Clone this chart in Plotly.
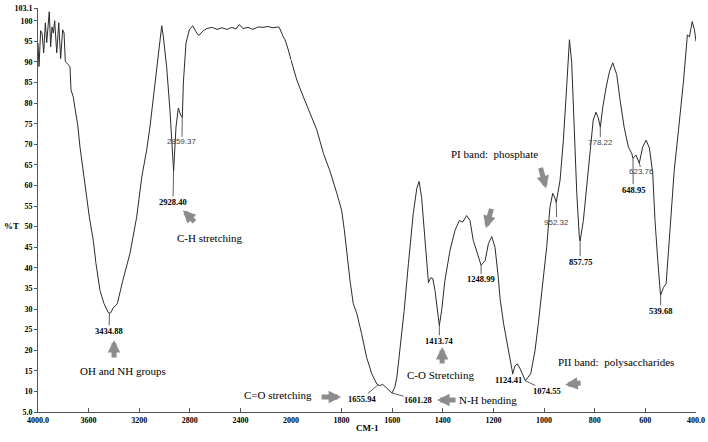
import plotly.graph_objects as go

# ===== FTIR spectrum =====
wavenumber = [
    4000, 3992, 3979, 3968, 3955, 3942, 3931, 3921, 3911, 3900, 3889, 3879, 3868, 3852,
    3836, 3821, 3805, 3794, 3784, 3760, 3747, 3739, 3721, 3708, 3686, 3668, 3642, 3615,
    3594, 3563, 3542, 3510, 3478, 3444, 3435, 3425, 3405, 3373, 3330, 3273, 3220, 3180,
    3141, 3115, 3075, 3049, 3022, 3009, 2983, 2957, 2943, 2928, 2909, 2891, 2872, 2859,
    2851, 2830, 2804, 2777, 2751, 2730, 2693, 2666, 2625, 2585, 2546, 2506, 2467, 2435,
    2409, 2380, 2340, 2300, 2261, 2221, 2182, 2142, 2103, 2093, 2061, 2047, 2021, 2008,
    2000, 1977, 1951, 1925, 1898, 1872, 1846, 1819, 1800, 1790, 1780, 1766, 1754, 1740,
    1721, 1701, 1681, 1661, 1650, 1638, 1625, 1612, 1601, 1590, 1582, 1569, 1553, 1536,
    1517, 1503, 1494, 1484, 1471, 1457, 1448, 1440, 1431, 1422, 1414, 1405, 1392, 1372,
    1352, 1335, 1322, 1306, 1293, 1280, 1260, 1249, 1233, 1220, 1207, 1194, 1181, 1174,
    1160, 1140, 1124, 1115, 1106, 1095, 1079, 1074, 1053, 1036, 1023, 1009, 996, 990,
    977, 966, 957, 952, 937, 924, 911, 900, 891, 881, 871, 861, 858, 845, 832, 816, 806,
    795, 786, 778, 768, 755, 742, 729, 713, 700, 684, 667, 654, 649, 637, 624, 611, 597,
    584, 571, 562, 551, 540, 529, 518, 502, 486, 469, 449, 434, 426, 415, 406, 400,
]
transmittance = [
    94.6, 88.9, 97.6, 97.0, 92.2, 99.5, 94.7, 99.3, 102.2, 93.7, 98.5, 97.0, 100.0, 92.2,
    99.5, 90.8, 97.8, 97.0, 90.1, 89.3, 88.8, 83.2, 81.5, 78.8, 74.7, 69.3, 63.0, 57.1,
    52.3, 46.7, 41.1, 34.5, 31.3, 29.1, 29.0, 29.1, 30.3, 31.3, 36.9, 43.5, 52.3, 62.0,
    68.6, 74.2, 84.9, 92.9, 98.8, 96.1, 88.8, 78.3, 70.3, 63.5, 74.2, 78.8, 77.1, 76.5,
    84.9, 94.6, 97.8, 98.8, 97.3, 96.4, 97.6, 98.1, 98.4, 97.9, 98.3, 97.9, 98.4, 98.0,
    99.1, 98.1, 98.4, 97.9, 98.5, 98.4, 98.6, 98.3, 98.5, 98.4, 96.1, 95.4, 92.9, 91.0,
    90.5, 85.6, 81.5, 77.6, 73.5, 67.8, 63.5, 58.1, 54.0, 49.5, 43.8, 36.5, 31.3, 28.9,
    24.0, 18.2, 14.3, 11.8, 11.4, 11.7, 11.0, 10.3, 9.6, 11.0, 13.3, 20.6, 29.6, 41.1,
    53.2, 59.3, 61.0, 57.1, 46.7, 36.4, 37.6, 37.4, 34.5, 29.6, 26.0, 29.6, 36.9, 44.2,
    49.1, 51.5, 51.1, 52.7, 51.5, 46.7, 42.6, 40.6, 41.8, 45.9, 47.6, 45.0, 37.6, 32.5,
    26.4, 19.1, 14.3, 16.2, 16.7, 15.5, 13.3, 12.6, 14.3, 19.9, 26.4, 34.5, 41.8, 45.0,
    54.7, 58.1, 56.9, 55.9, 61.3, 71.0, 83.9, 95.4, 89.8, 74.2, 58.1, 47.5, 46.5, 51.5,
    59.6, 69.3, 75.9, 77.8, 76.4, 74.2, 79.1, 83.9, 87.6, 89.8, 86.9, 80.8, 74.2, 69.3,
    67.8, 66.6, 67.4, 65.4, 69.3, 71.0, 69.1, 63.0, 51.5, 41.8, 33.3, 35.2, 36.2, 49.8,
    63.7, 73.5, 85.6, 96.6, 96.1, 99.8, 97.8, 95.0,
]

# peak labels: position, curve value, label text position, bold or not
peak_wn = [3434.88, 2928.40, 2859.37, 1655.94, 1601.28, 1413.74, 1248.99, 1124.41,
           1074.55, 952.32, 857.75, 778.22, 623.76, 648.95, 539.68]
peak_t = [29.1, 63.5, 76.5, 11.6, 9.6, 26.0, 40.6, 14.3, 12.6, 55.9, 46.5, 74.2, 65.4, 66.6, 33.3]
label_wn = [3439, 2933, 2862, 1721, 1498, 1414, 1249, 1141, 990, 950, 858, 778, 615, 648, 540]
label_t = [24.7, 56.0, 70.6, 8.2, 7.9, 22.3, 37.2, 12.7, 10.1, 51.1, 41.5, 70.5, 63.3, 59.0, 29.6]
label_bold = [True, True, False, True, True, True, True, True, True, False, True, False, False, True, True]

# band notes
note_text = ["OH and NH groups", "C-H stretching", "C=O stretching", "C-O Stretching",
             "N-H bending", "PI band:  phosphate", "PII band:  polysaccharides"]
note_wn = [3332, 2640, 2103, 1408, 1222, 1198, 716]
note_t = [15.0, 47.2, 9.1, 13.9, 7.9, 67.6, 17.2]

# gray pointer arrows: tip (wn, %T) and tail offset in px
arrow_wn = [3399, 2854, 1802, 1403, 1423, 992, 1230, 917]
arrow_t = [22.5, 54.0, 8.65, 20.8, 7.9, 59.3, 49.6, 11.6]
arrow_dx = [0, 13, -21, 0, 20, -6, 6, 17]
arrow_dy = [19, 13, 0, 18, 0, -22, -21, -2]

x_ticks_left = [4000, 3600, 3200, 2800, 2400]
x_text_left = ["4000.0", "3600", "3200", "2800", "2400"]
x_ticks_right = [2000, 1800, 1600, 1400, 1200, 1000, 800, 600, 400]
x_text_right = ["2000", "1800", "1600", "1400", "1200", "1000", "800", "600", "400.0"]
y_ticks = [5, 10, 15, 20, 25, 30, 35, 40, 45, 50, 55, 60, 65, 70, 75, 80, 85, 90, 95, 100, 103.1]
y_text = ["5.0"] + [str(v) for v in y_ticks[1:-1]] + ["103.1"]


def xref_for(w):
    # the spectrum axis changes scale at 2000 cm-1 -> two x axes side by side
    return "x" if w > 2000 else "x2"


left_wn = [w for w in wavenumber if w >= 2000]
left_t = [t for w, t in zip(wavenumber, transmittance) if w >= 2000]
right_wn = [w for w in wavenumber if w <= 2000]
right_t = [t for w, t in zip(wavenumber, transmittance) if w <= 2000]

line_style = dict(color="#2b2b2b", width=1)
fig = go.Figure()
fig.add_trace(go.Scatter(x=left_wn, y=left_t, mode="lines", line=line_style, xaxis="x", yaxis="y"))
fig.add_trace(go.Scatter(x=right_wn, y=right_t, mode="lines", line=line_style, xaxis="x2", yaxis="y"))

tick_font = dict(family="Liberation Serif", size=8, color="black", weight="bold")
split = 0.3845
axis_common = dict(showgrid=False, zeroline=False, showline=True, linecolor="#555", linewidth=1,
                   ticks="inside", ticklen=4, tickcolor="#555", tickfont=tick_font, anchor="y",
                   automargin=False, ticklabeloverflow="allow")

annotations = []
for w, t, lw, lt, bold in zip(peak_wn, peak_t, label_wn, label_t, label_bold):
    xr = xref_for(w)
    if bold:
        f = dict(family="Liberation Serif", size=8.5, color="black", weight="bold")
    else:
        f = dict(family="Liberation Sans", size=8, color="#444")
    annotations.append(dict(
        x=w, y=t, xref=xr, yref="y", ax=lw, ay=lt, axref=xr, ayref="y",
        text="%.2f" % w, font=f, showarrow=True, arrowhead=0, arrowwidth=0.8,
        arrowcolor="#333", standoff=0, startstandoff=0, borderpad=0,
    ))

for txt, w, t in zip(note_text, note_wn, note_t):
    annotations.append(dict(
        x=w, y=t, xref=xref_for(w), yref="y", text=txt, showarrow=False,
        font=dict(family="Liberation Serif", size=11, color="black"),
    ))

for w, t, dx, dy in zip(arrow_wn, arrow_t, arrow_dx, arrow_dy):
    annotations.append(dict(
        x=w, y=t, xref=xref_for(w), yref="y", ax=dx, ay=dy, axref="pixel", ayref="pixel", text="",
        showarrow=True, arrowhead=2, arrowsize=0.5, arrowwidth=5, arrowcolor="#8c8c8c",
    ))

annotations.append(dict(x=0.5, y=-0.057, xref="paper", yref="paper", text="CM-1", showarrow=False,
                        font=dict(family="Liberation Serif", size=9, color="black", weight="bold")))
annotations.append(dict(x=-0.054, y=0.46, xref="paper", yref="paper", xanchor="left", text="%T",
                        showarrow=False,
                        font=dict(family="Liberation Serif", size=9, color="black", weight="bold")))

fig.update_layout(
    width=708, height=442,
    margin=dict(l=38, r=12, t=8, b=30, autoexpand=False),
    paper_bgcolor="white", plot_bgcolor="white",
    showlegend=False,
    xaxis=dict(domain=[0, split], range=[4000, 2000], tickvals=x_ticks_left, ticktext=x_text_left,
               **axis_common),
    xaxis2=dict(domain=[split, 1], range=[2000, 400], tickvals=x_ticks_right, ticktext=x_text_right,
                **axis_common),
    yaxis=dict(range=[5, 103.1], tickvals=y_ticks, ticktext=y_text, showgrid=False, zeroline=False,
               showline=True, linecolor="#555", linewidth=1, ticks="outside", ticklen=3,
               tickcolor="#555", tickfont=tick_font, anchor="x", automargin=False),
    annotations=annotations,
)

# the page body has a default 8px margin; drop it so the figure sits at the window's corner
fig.write_html("out.html", config={"displayModeBar": False},
               post_script="document.body.style.margin = '0';")
